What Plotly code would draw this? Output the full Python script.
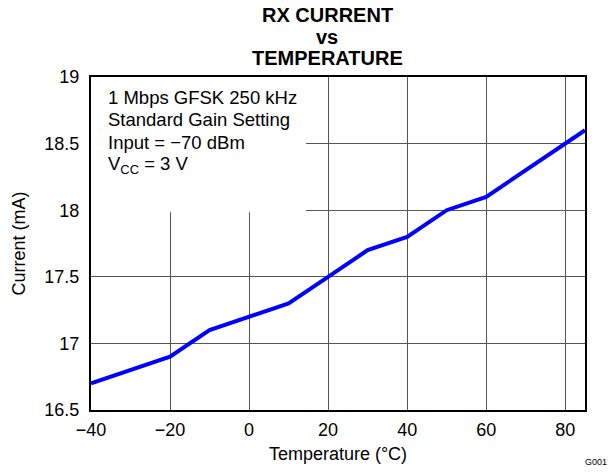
import plotly.graph_objects as go

temperature = [-40, -20, -10, 0, 10, 20, 30, 40, 50, 60, 85]
current = [16.7, 16.9, 17.1, 17.2, 17.3, 17.5, 17.7, 17.8, 18.0, 18.1, 18.6]

x_ticks = [-40, -20, 0, 20, 40, 60, 80]
x_labels = ["−40", "−20", "0", "20", "40", "60", "80"]
y_ticks = [16.5, 17, 17.5, 18, 18.5, 19]
y_labels = ["16.5", "17", "17.5", "18", "18.5", "19"]

title_lines = ["RX CURRENT", "vs", "TEMPERATURE"]
note_lines = ["1 Mbps GFSK 250 kHz", "Standard Gain Setting",
              "Input = −70 dBm", "V<sub>CC</sub> = 3 V"]

font = "Arial, Liberation Sans, sans-serif"

fig = go.Figure()
fig.add_trace(go.Scatter(x=temperature, y=current, mode="lines",
                         line=dict(color="#0000FF", width=4), showlegend=False))

fig.update_layout(
    width=610, height=472,
    margin=dict(l=91, r=25, t=77, b=62),
    paper_bgcolor="white", plot_bgcolor="white",
    font=dict(family=font, size=18, color="black"),
    xaxis=dict(range=[-40, 85], tickvals=x_ticks, ticktext=x_labels,
               showgrid=True, gridcolor="#555555", gridwidth=1,
               showline=True, linecolor="black", linewidth=2, mirror=True,
               zeroline=False, ticks="", tickfont=dict(size=18),
               ticklabelstandoff=2,
               title=dict(text="Temperature (°C)", standoff=9, font=dict(size=18))),
    yaxis=dict(range=[16.5, 19], tickvals=y_ticks, ticktext=y_labels,
               showgrid=True, gridcolor="#555555", gridwidth=1,
               showline=True, linecolor="black", linewidth=2, mirror=True,
               zeroline=False, ticks="", tickfont=dict(size=18),
               ticklabelstandoff=6,
               title=dict(text="Current (mA)", standoff=14, font=dict(size=18))),
)

fig.add_shape(type="rect", xref="x", yref="y", x0=-40, x1=14.4, y0=17.985, y1=19,
              fillcolor="white", line=dict(width=0), layer="between")

# title lines (pixel centers 15, 37, 58 from top; plot top at 77)
for i, line in enumerate(title_lines):
    fig.add_annotation(text="<b>" + line + "</b>", xref="paper", yref="paper",
                       x=0.5, y=1, xanchor="center", yanchor="middle",
                       xshift=-11, yshift=77 - (15 + 21.5 * i), showarrow=False,
                       font=dict(size=20))

# note lines (pixel centers 97, 120, 142.5, 165)
for i, line in enumerate(note_lines):
    fig.add_annotation(text=line, xref="paper", yref="paper",
                       x=0, y=1, xanchor="left", yanchor="middle", align="left",
                       xshift=15, yshift=77 - (97 + 22.7 * i), showarrow=False,
                       font=dict(size=18.5))

fig.add_annotation(text="G001", xref="paper", yref="paper", x=1.0, y=0,
                   xanchor="left", yanchor="middle", xshift=-2, yshift=-52,
                   showarrow=False, font=dict(size=9))

fig.write_html("out.html", config={"displayModeBar": False},
               post_script="document.body.style.margin='0';document.body.style.padding='0';")
